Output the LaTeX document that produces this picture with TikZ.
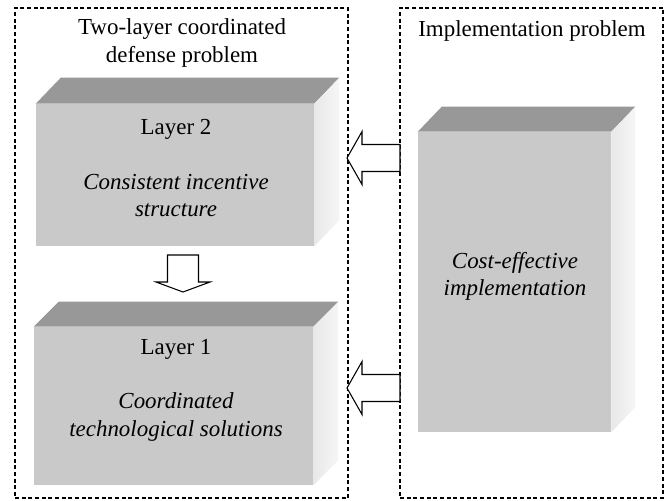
\documentclass[tikz,border=0pt]{standalone}
\usepackage{fontspec}
\setmainfont{Liberation Serif}
\usepackage{tikz}
\usetikzlibrary{fit}
\definecolor{frontgray}{RGB}{201,201,201}
\definecolor{topgray}{RGB}{152,152,152}
\definecolor{sidegray}{RGB}{232,232,232}
\definecolor{sidelight}{RGB}{246,246,246}

\begin{document}
\begin{tikzpicture}[x=0.75pt,y=-0.75pt,
  frame/.style={draw,dash pattern=on 3pt off 2pt,line width=0.8pt,inner sep=0pt},
  front/.style={fill=frontgray,inner sep=0pt},
  side/.style={left color=sidegray,right color=sidelight},
  txt/.style={font=\fontsize{17.2}{20.3}\selectfont,align=center},
  hollow/.style={draw,fill=white,line width=0.8pt,line join=miter}]
\useasboundingbox (0,0) rectangle (667,500);

% the two dashed frames
\node (LF) [frame,fit={(15,8) (348,498)}]{};
\node (RF) [frame,fit={(400,8) (663,498)}]{};
\node (TL) [txt] at (182,43) {Two-layer coordinated\\defense problem};
\node (TR) [txt] at (532,31) {Implementation problem};

% cubes: front face, then top and side
\node (F2) [front,fit={(36,104) (314,246)}]{};
\fill[topgray] (F2.north west) -- (F2.north east) -- ++(25,-26) -- ([shift={(25,-26)}]F2.north west) -- cycle;
\shade[side] (F2.north east) -- ++(25,-26) -- ([shift={(25,-26)}]F2.south east) -- (F2.south east) -- cycle;

\node (F1) [front,fit={(34,327) (313,485)}]{};
\fill[topgray] (F1.north west) -- (F1.north east) -- ++(25,-25) -- ([shift={(25,-25)}]F1.north west) -- cycle;
\shade[side] (F1.north east) -- ++(25,-25) -- ([shift={(25,-25)}]F1.south east) -- (F1.south east) -- cycle;

\node (F3) [front,fit={(418,132) (611,432)}]{};
\fill[topgray] (F3.north west) -- (F3.north east) -- ++(24,-25) -- ([shift={(24,-25)}]F3.north west) -- cycle;
\shade[side] (F3.north east) -- ++(24,-25) -- ([shift={(24,-25)}]F3.south east) -- (F3.south east) -- cycle;

% texts on the cubes
\node (L2) [txt] at (176,129) {Layer 2};
\node (S2) [txt] at (176,196) {\itshape Consistent incentive\\\itshape structure};
\node (L1) [txt] at (176,349) {Layer 1};
\node (S1) [txt] at (176,417) {\itshape Coordinated\\\itshape technological solutions};
\node (S3) [txt] at (515,276) {\itshape Cost-effective\\\itshape implementation};

% hollow arrows
\coordinate (A2) at (347,158);
\coordinate (A1) at (347,388);
\coordinate (AD) at (183,292);
\draw[hollow] (A2) -- ++(15,-26.5) -- ++(0,13) -- ++(38,0) -- ++(0,27) -- ++(-38,0) -- ++(0,13) -- cycle;
\draw[hollow] (A1) -- ++(15,-26.5) -- ++(0,13) -- ++(38,0) -- ++(0,27) -- ++(-38,0) -- ++(0,13) -- cycle;
\draw[hollow] (AD) -- ++(-27,-10) -- ++(11.5,0) -- ++(0,-27) -- ++(31,0) -- ++(0,27) -- ++(11.5,0) -- cycle;

\end{tikzpicture}
\end{document}
